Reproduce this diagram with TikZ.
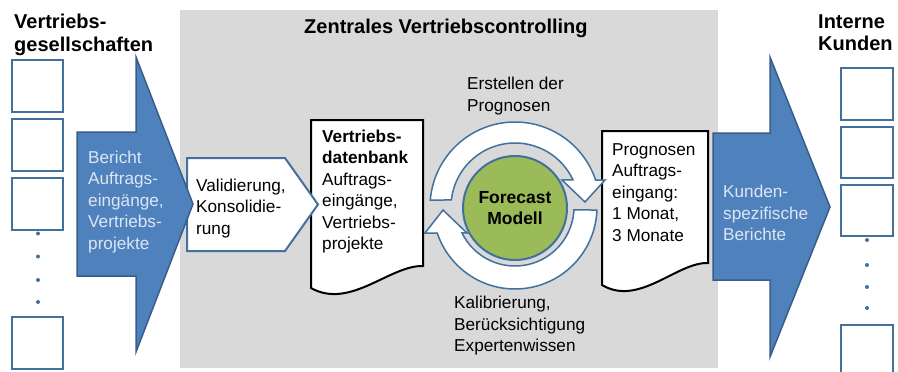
\documentclass[tikz,border=0pt]{standalone}
\usepackage{fontspec}
\setmainfont{Liberation Sans}
\definecolor{panelgray}{HTML}{D9D9D9}
\definecolor{boxblue}{HTML}{41719C}
\definecolor{arrowfill}{HTML}{4F81BD}
\definecolor{arrowline}{HTML}{385D8A}
\definecolor{arrowtext}{HTML}{DCE6F2}
\definecolor{modelgreen}{HTML}{9BBB59}
\tikzset{
  unitbox/.style={draw=boxblue, line width=2pt, fill=white},
  unitdot/.style={fill=boxblue},
  bigarrow/.style={fill=arrowfill, draw=arrowline, line width=1.5pt, line join=miter},
  stagebox/.style={fill=white, draw=boxblue, line width=2pt},
  docshape/.style={fill=white, draw=black, line width=2pt},
  cyclearrow/.style={fill=white, draw=boxblue, line width=1.5pt},
  % multi-line labels are anchored at the baseline of their last line
  body/.style={anchor=base west, align=left, inner sep=0pt, font=\fontsize{17.2}{21.5}\selectfont},
  heading/.style={anchor=base west, align=left, inner sep=0pt, font=\fontsize{20}{22.5}\selectfont\bfseries},
}
\begin{document}
\begin{tikzpicture}[x=1pt, y=-1pt]
\useasboundingbox (0,0) rectangle (898,372);

% central controlling panel
\fill[panelgray] (180,10) rectangle (718,368);
\node[heading] (centreTitle) at (304,33) {Zentrales Vertriebscontrolling};

% sales companies
\node[heading] (leftTitle) at (14,51) {Vertriebs-\\gesellschaften};
\draw[unitbox] (12,60) rectangle (63,112);
\draw[unitbox] (12,119) rectangle (63,171);
\draw[unitbox] (12,178) rectangle (63,230);
\draw[unitbox] (12,317) rectangle (63,369);
\foreach \yy in {233.5,256.5,280,302}
  \fill[unitdot] (38,\yy) circle (2);

% internal customers
\node[heading] (rightTitle) at (818,50.5) {Interne\\Kunden};
\draw[unitbox] (841,68) rectangle (893,120);
\draw[unitbox] (841,127) rectangle (893,178);
\draw[unitbox] (841,185) rectangle (893,236);
\draw[unitbox] (841,325) rectangle (893,378);
\foreach \yy in {240,265,287,308}
  \fill[unitdot] (867,\yy) circle (2);

% documents
\path[docshape] (311,120) -- (423,120) -- (423,266)
  .. controls (390,265) and (350,310) .. (311,288) -- cycle;
\path[docshape] (602,131) -- (708,131) -- (708,263)
  .. controls (677,262) and (639,307) .. (602,285) -- cycle;

% validation step
\path[stagebox] (187,158) -- (285,158) -- (318,204.5) -- (285,251) -- (187,251) -- cycle;

% report arrows
\path[bigarrow] (77,132) -- (136,132) -- (136,57) -- (193,204) -- (136,352)
  -- (136,276) -- (77,276) -- cycle;
\path[bigarrow] (713,133) -- (770,133) -- (770,57) -- (830,207) -- (770,357)
  -- (770,280) -- (713,280) -- cycle;

% forecast cycle
\path[cyclearrow]
  plot[domain=184.7:341.5, samples=80] ({515+85*cos(\x)},{207+85*sin(\x)})
  -- (605,180) -- (585,202) -- (562,180)
  -- plot[domain=335:186.3, samples=80] ({515+64*cos(\x)},{207+64*sin(\x)})
  -- cycle;
\path[cyclearrow]
  plot[domain=2.1:161.5, samples=80] ({515+82*cos(\x)},{207+82*sin(\x)})
  -- (425,233) -- (443,210) -- (467,233)
  -- plot[domain=153.9:2.9, samples=80] ({515+59*cos(\x)},{207+59*sin(\x)})
  -- cycle;
\node[circle, draw=boxblue, line width=2pt, fill=modelgreen, minimum size=104pt,
  inner sep=0pt, align=center, font=\fontsize{17.5}{21.5}\selectfont\bfseries]
  (model) at (515,208) {Forecast\\Modell};

% labels
\node[body, text=arrowtext] (reportText) at (88,249)
  {Bericht\\Auftrags-\\eingänge,\\Vertriebs-\\projekte};
\node[body] (validText) at (196,234) {Validierung,\\Konsolidie-\\rung};
\node[body] (dbText) at (322,249.5)
  {\textbf{Vertriebs-}\\\textbf{datenbank}\\Auftrags-\\eingänge,\\Vertriebs-\\projekte};
\node[body] (createText) at (467,111) {Erstellen der\\Prognosen};
\node[body] (calibText) at (454,351.5) {Kalibrierung,\\Berücksichtigung\\Expertenwissen};
\node[body] (forecastText) at (612,241)
  {Prognosen\\Auftrags-\\eingang:\\1 Monat,\\3 Monate};
\node[body, text=arrowtext] (customText) at (723,240.5)
  {Kunden-\\spezifische\\Berichte};
\end{tikzpicture}
\end{document}
